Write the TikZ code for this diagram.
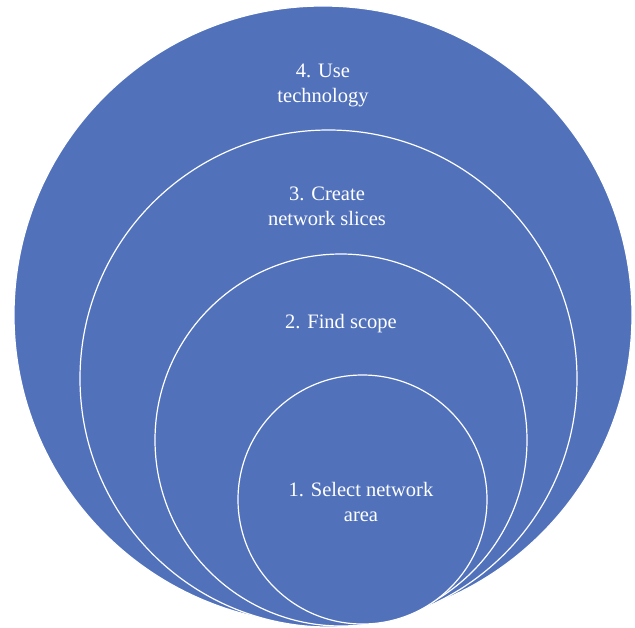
\documentclass[tikz,border=0pt]{standalone}
\usepackage{fontspec}
\setmainfont{Liberation Serif}
\usepackage{xcolor}
\usepackage{tikz}
\definecolor{ringblue}{RGB}{81,114,187}

\begin{document}
\begin{tikzpicture}[x=1pt,y=-1pt,
  ring/.style={circle, draw=white, line width=1.2pt, fill=ringblue, inner sep=0pt},
  txt/.style={text=white, align=center, font=\fontsize{20.5}{25}\selectfont}]
\useasboundingbox (0,0) rectangle (635,627);
% Circles
\node[ring, minimum size=618pt] (c4) at (323,315) {};
\node[ring, minimum size=497pt] (c3) at (328.5,378.5) {};
\node[ring, minimum size=372pt] (c2) at (341,440) {};
\node[ring, minimum size=249pt] (c1) at (362.5,499.5) {};

% Labels
\node[txt] (t4) at (323,85) {4. Use\\technology};
\node[txt] (t3) at (327,206) {3. Create\\network slices};
\node[txt] (t2) at (341,324) {2. Find scope};
\node[txt] (t1) at (361,502) {1. Select network\\area};
\end{tikzpicture}
\end{document}
